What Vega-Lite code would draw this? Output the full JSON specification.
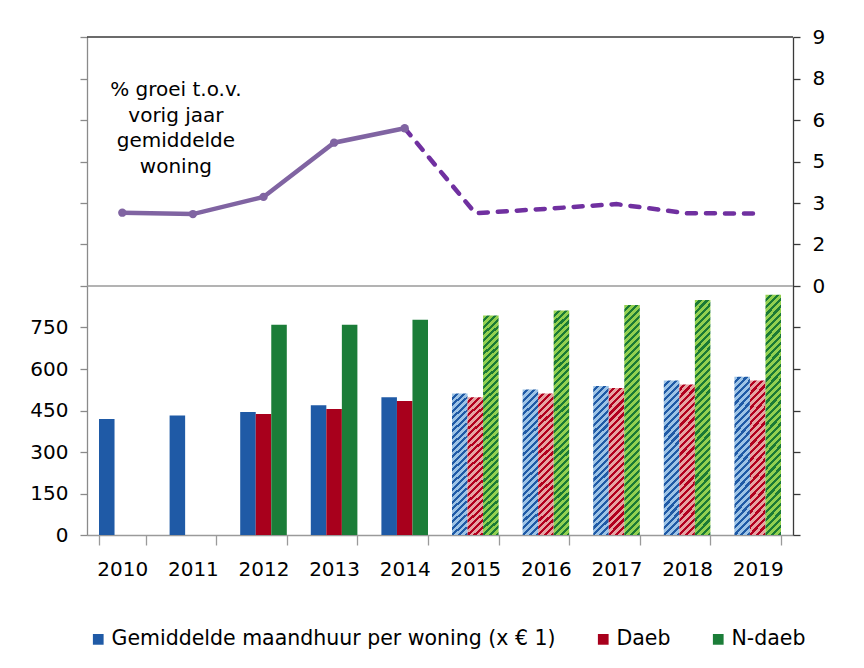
{
  "$schema": "https://vega.github.io/schema/vega-lite/v6.json",
  "width": 706,
  "height": 498,
  "autosize": "none",
  "padding": {"left": 87, "top": 37, "right": 71, "bottom": 133},
  "background": "white",
  "config": {
    "view": {"stroke": null},
    "font": "DejaVu Sans",
    "axis": {"labelFont": "DejaVu Sans", "labelFontSize": 20, "labelColor": "#000000", "grid": false, "title": null}
  },
  "datasets": {
    "huur": [
      {"jaar": 2010, "reeks": "Gemiddelde maandhuur per woning (x € 1)", "waarde": 419},
      {"jaar": 2011, "reeks": "Gemiddelde maandhuur per woning (x € 1)", "waarde": 432},
      {"jaar": 2012, "reeks": "Gemiddelde maandhuur per woning (x € 1)", "waarde": 445},
      {"jaar": 2012, "reeks": "Daeb", "waarde": 437},
      {"jaar": 2012, "reeks": "N-daeb", "waarde": 760},
      {"jaar": 2013, "reeks": "Gemiddelde maandhuur per woning (x € 1)", "waarde": 469},
      {"jaar": 2013, "reeks": "Daeb", "waarde": 455},
      {"jaar": 2013, "reeks": "N-daeb", "waarde": 760},
      {"jaar": 2014, "reeks": "Gemiddelde maandhuur per woning (x € 1)", "waarde": 498},
      {"jaar": 2014, "reeks": "Daeb", "waarde": 484},
      {"jaar": 2014, "reeks": "N-daeb", "waarde": 778},
      {"jaar": 2015, "reeks": "Gemiddelde maandhuur per woning (x € 1)", "waarde": 511},
      {"jaar": 2015, "reeks": "Daeb", "waarde": 498},
      {"jaar": 2015, "reeks": "N-daeb", "waarde": 793},
      {"jaar": 2016, "reeks": "Gemiddelde maandhuur per woning (x € 1)", "waarde": 526},
      {"jaar": 2016, "reeks": "Daeb", "waarde": 511},
      {"jaar": 2016, "reeks": "N-daeb", "waarde": 811},
      {"jaar": 2017, "reeks": "Gemiddelde maandhuur per woning (x € 1)", "waarde": 539},
      {"jaar": 2017, "reeks": "Daeb", "waarde": 531},
      {"jaar": 2017, "reeks": "N-daeb", "waarde": 831},
      {"jaar": 2018, "reeks": "Gemiddelde maandhuur per woning (x € 1)", "waarde": 558},
      {"jaar": 2018, "reeks": "Daeb", "waarde": 544},
      {"jaar": 2018, "reeks": "N-daeb", "waarde": 849},
      {"jaar": 2019, "reeks": "Gemiddelde maandhuur per woning (x € 1)", "waarde": 572},
      {"jaar": 2019, "reeks": "Daeb", "waarde": 558},
      {"jaar": 2019, "reeks": "N-daeb", "waarde": 868}
    ],
    "groei": [
      {"jaar": 2010, "groei": 2.65},
      {"jaar": 2011, "groei": 2.6},
      {"jaar": 2012, "groei": 3.22},
      {"jaar": 2013, "groei": 5.18},
      {"jaar": 2014, "groei": 5.7},
      {"jaar": 2015, "groei": 2.63},
      {"jaar": 2016, "groei": 2.79},
      {"jaar": 2017, "groei": 2.96},
      {"jaar": 2018, "groei": 2.63},
      {"jaar": 2019, "groei": 2.62}
    ]
  },
  "layer": [
    {
      "data": {"name": "huur"},
      "layer": [
        {
          "transform": [{"filter": "datum.jaar <= 2014"}],
          "mark": {"type": "bar", "stroke": null},
          "encoding": {
            "x": {
              "field": "jaar", "type": "ordinal",
              "scale": {"paddingInner": 0.34, "paddingOuter": 0.17},
              "axis": {"title": null, "labelAngle": 0, "domainColor": "#9a9a9a", "domainWidth": 1.3, "tickColor": "#9a9a9a", "tickWidth": 1.3, "tickSize": 10, "tickBand": "extent", "labelPadding": 14, "labelFontSize": 20, "labelFont": "DejaVu Sans"}
            },
            "xOffset": {
              "field": "reeks", "type": "nominal",
              "scale": {"domain": ["Gemiddelde maandhuur per woning (x € 1)", "Daeb", "N-daeb"], "paddingInner": 0, "paddingOuter": 0}
            },
            "y": {
              "field": "waarde", "type": "quantitative",
              "scale": {"domain": [0, 1800], "nice": false, "zero": true},
              "axis": {"title": null, "values": [0, 150, 300, 450, 600, 750, 900, 1050, 1200, 1350, 1500, 1650, 1800], "labelExpr": "datum.value <= 750 ? datum.label : ''", "domainColor": "#8a8a8a", "domainWidth": 1.3, "tickColor": "#8a8a8a", "tickWidth": 1.3, "tickSize": 7, "labelPadding": 12, "labelFontSize": 20}
            },
            "color": {
              "field": "reeks", "type": "nominal",
              "scale": {"domain": ["Gemiddelde maandhuur per woning (x € 1)", "Daeb", "N-daeb"], "range": ["#1F5AA6", "#A8001C", "#1B7D38"]},
              "legend": {"orient": "none", "legendX": 1, "legendY": 592, "direction": "horizontal", "columns": 3, "title": null, "symbolType": "square", "symbolSize": 115, "symbolStrokeWidth": 0, "labelFontSize": 20.5, "labelFont": "DejaVu Sans", "labelColor": "#000000", "labelOffset": 3, "columnPadding": 37, "labelLimit": 700}
            }
          }
        },
        {
          "transform": [{"filter": "datum.jaar >= 2015 && datum.reeks != 'Daeb' && datum.reeks != 'N-daeb'"}],
          "mark": {
            "type": "bar", "stroke": null,
            "fill": {"gradient": "linear", "x1": 0, "y1": 0, "x2": 0.1128, "y2": 1.0917, "stops": [
              {"offset": 0, "color": "#9DC3E6"}, {"offset": 0.0229, "color": "#9DC3E6"}, {"offset": 0.0229, "color": "#1F5AA6"}, {"offset": 0.0417, "color": "#1F5AA6"},
              {"offset": 0.0417, "color": "#9DC3E6"}, {"offset": 0.0646, "color": "#9DC3E6"}, {"offset": 0.0646, "color": "#1F5AA6"}, {"offset": 0.0833, "color": "#1F5AA6"},
              {"offset": 0.0833, "color": "#9DC3E6"}, {"offset": 0.1063, "color": "#9DC3E6"}, {"offset": 0.1063, "color": "#1F5AA6"}, {"offset": 0.125, "color": "#1F5AA6"},
              {"offset": 0.125, "color": "#9DC3E6"}, {"offset": 0.1479, "color": "#9DC3E6"}, {"offset": 0.1479, "color": "#1F5AA6"}, {"offset": 0.1667, "color": "#1F5AA6"},
              {"offset": 0.1667, "color": "#9DC3E6"}, {"offset": 0.1896, "color": "#9DC3E6"}, {"offset": 0.1896, "color": "#1F5AA6"}, {"offset": 0.2083, "color": "#1F5AA6"},
              {"offset": 0.2083, "color": "#9DC3E6"}, {"offset": 0.2313, "color": "#9DC3E6"}, {"offset": 0.2313, "color": "#1F5AA6"}, {"offset": 0.25, "color": "#1F5AA6"},
              {"offset": 0.25, "color": "#9DC3E6"}, {"offset": 0.2729, "color": "#9DC3E6"}, {"offset": 0.2729, "color": "#1F5AA6"}, {"offset": 0.2917, "color": "#1F5AA6"},
              {"offset": 0.2917, "color": "#9DC3E6"}, {"offset": 0.3146, "color": "#9DC3E6"}, {"offset": 0.3146, "color": "#1F5AA6"}, {"offset": 0.3333, "color": "#1F5AA6"},
              {"offset": 0.3333, "color": "#9DC3E6"}, {"offset": 0.3563, "color": "#9DC3E6"}, {"offset": 0.3563, "color": "#1F5AA6"}, {"offset": 0.375, "color": "#1F5AA6"},
              {"offset": 0.375, "color": "#9DC3E6"}, {"offset": 0.3979, "color": "#9DC3E6"}, {"offset": 0.3979, "color": "#1F5AA6"}, {"offset": 0.4167, "color": "#1F5AA6"},
              {"offset": 0.4167, "color": "#9DC3E6"}, {"offset": 0.4396, "color": "#9DC3E6"}, {"offset": 0.4396, "color": "#1F5AA6"}, {"offset": 0.4583, "color": "#1F5AA6"},
              {"offset": 0.4583, "color": "#9DC3E6"}, {"offset": 0.4813, "color": "#9DC3E6"}, {"offset": 0.4813, "color": "#1F5AA6"}, {"offset": 0.5, "color": "#1F5AA6"},
              {"offset": 0.5, "color": "#9DC3E6"}, {"offset": 0.5229, "color": "#9DC3E6"}, {"offset": 0.5229, "color": "#1F5AA6"}, {"offset": 0.5417, "color": "#1F5AA6"},
              {"offset": 0.5417, "color": "#9DC3E6"}, {"offset": 0.5646, "color": "#9DC3E6"}, {"offset": 0.5646, "color": "#1F5AA6"}, {"offset": 0.5833, "color": "#1F5AA6"},
              {"offset": 0.5833, "color": "#9DC3E6"}, {"offset": 0.6063, "color": "#9DC3E6"}, {"offset": 0.6063, "color": "#1F5AA6"}, {"offset": 0.625, "color": "#1F5AA6"},
              {"offset": 0.625, "color": "#9DC3E6"}, {"offset": 0.6479, "color": "#9DC3E6"}, {"offset": 0.6479, "color": "#1F5AA6"}, {"offset": 0.6667, "color": "#1F5AA6"},
              {"offset": 0.6667, "color": "#9DC3E6"}, {"offset": 0.6896, "color": "#9DC3E6"}, {"offset": 0.6896, "color": "#1F5AA6"}, {"offset": 0.7083, "color": "#1F5AA6"},
              {"offset": 0.7083, "color": "#9DC3E6"}, {"offset": 0.7313, "color": "#9DC3E6"}, {"offset": 0.7313, "color": "#1F5AA6"}, {"offset": 0.75, "color": "#1F5AA6"},
              {"offset": 0.75, "color": "#9DC3E6"}, {"offset": 0.7729, "color": "#9DC3E6"}, {"offset": 0.7729, "color": "#1F5AA6"}, {"offset": 0.7917, "color": "#1F5AA6"},
              {"offset": 0.7917, "color": "#9DC3E6"}, {"offset": 0.8146, "color": "#9DC3E6"}, {"offset": 0.8146, "color": "#1F5AA6"}, {"offset": 0.8333, "color": "#1F5AA6"},
              {"offset": 0.8333, "color": "#9DC3E6"}, {"offset": 0.8563, "color": "#9DC3E6"}, {"offset": 0.8563, "color": "#1F5AA6"}, {"offset": 0.875, "color": "#1F5AA6"},
              {"offset": 0.875, "color": "#9DC3E6"}, {"offset": 0.8979, "color": "#9DC3E6"}, {"offset": 0.8979, "color": "#1F5AA6"}, {"offset": 0.9167, "color": "#1F5AA6"},
              {"offset": 0.9167, "color": "#9DC3E6"}, {"offset": 0.9396, "color": "#9DC3E6"}, {"offset": 0.9396, "color": "#1F5AA6"}, {"offset": 0.9583, "color": "#1F5AA6"},
              {"offset": 0.9583, "color": "#9DC3E6"}, {"offset": 0.9813, "color": "#9DC3E6"}, {"offset": 0.9813, "color": "#1F5AA6"}, {"offset": 1, "color": "#1F5AA6"}
            ]}
          },
          "encoding": {
            "x": {"field": "jaar", "type": "ordinal"},
            "xOffset": {"field": "reeks", "type": "nominal"},
            "y": {"field": "waarde", "type": "quantitative"}
          }
        },
        {
          "transform": [{"filter": "datum.jaar >= 2015 && datum.reeks == 'Daeb'"}],
          "mark": {
            "type": "bar", "stroke": null,
            "fill": {"gradient": "linear", "x1": 0, "y1": 0, "x2": 0.1161, "y2": 1.0938, "stops": [
              {"offset": 0, "color": "#E6A3A3"}, {"offset": 0.0239, "color": "#E6A3A3"}, {"offset": 0.0239, "color": "#B2001E"}, {"offset": 0.0435, "color": "#B2001E"},
              {"offset": 0.0435, "color": "#E6A3A3"}, {"offset": 0.0674, "color": "#E6A3A3"}, {"offset": 0.0674, "color": "#B2001E"}, {"offset": 0.087, "color": "#B2001E"},
              {"offset": 0.087, "color": "#E6A3A3"}, {"offset": 0.1109, "color": "#E6A3A3"}, {"offset": 0.1109, "color": "#B2001E"}, {"offset": 0.1304, "color": "#B2001E"},
              {"offset": 0.1304, "color": "#E6A3A3"}, {"offset": 0.1543, "color": "#E6A3A3"}, {"offset": 0.1543, "color": "#B2001E"}, {"offset": 0.1739, "color": "#B2001E"},
              {"offset": 0.1739, "color": "#E6A3A3"}, {"offset": 0.1978, "color": "#E6A3A3"}, {"offset": 0.1978, "color": "#B2001E"}, {"offset": 0.2174, "color": "#B2001E"},
              {"offset": 0.2174, "color": "#E6A3A3"}, {"offset": 0.2413, "color": "#E6A3A3"}, {"offset": 0.2413, "color": "#B2001E"}, {"offset": 0.2609, "color": "#B2001E"},
              {"offset": 0.2609, "color": "#E6A3A3"}, {"offset": 0.2848, "color": "#E6A3A3"}, {"offset": 0.2848, "color": "#B2001E"}, {"offset": 0.3043, "color": "#B2001E"},
              {"offset": 0.3043, "color": "#E6A3A3"}, {"offset": 0.3282, "color": "#E6A3A3"}, {"offset": 0.3282, "color": "#B2001E"}, {"offset": 0.3478, "color": "#B2001E"},
              {"offset": 0.3478, "color": "#E6A3A3"}, {"offset": 0.3717, "color": "#E6A3A3"}, {"offset": 0.3717, "color": "#B2001E"}, {"offset": 0.3913, "color": "#B2001E"},
              {"offset": 0.3913, "color": "#E6A3A3"}, {"offset": 0.4152, "color": "#E6A3A3"}, {"offset": 0.4152, "color": "#B2001E"}, {"offset": 0.4348, "color": "#B2001E"},
              {"offset": 0.4348, "color": "#E6A3A3"}, {"offset": 0.4587, "color": "#E6A3A3"}, {"offset": 0.4587, "color": "#B2001E"}, {"offset": 0.4783, "color": "#B2001E"},
              {"offset": 0.4783, "color": "#E6A3A3"}, {"offset": 0.5022, "color": "#E6A3A3"}, {"offset": 0.5022, "color": "#B2001E"}, {"offset": 0.5217, "color": "#B2001E"},
              {"offset": 0.5217, "color": "#E6A3A3"}, {"offset": 0.5456, "color": "#E6A3A3"}, {"offset": 0.5456, "color": "#B2001E"}, {"offset": 0.5652, "color": "#B2001E"},
              {"offset": 0.5652, "color": "#E6A3A3"}, {"offset": 0.5891, "color": "#E6A3A3"}, {"offset": 0.5891, "color": "#B2001E"}, {"offset": 0.6087, "color": "#B2001E"},
              {"offset": 0.6087, "color": "#E6A3A3"}, {"offset": 0.6326, "color": "#E6A3A3"}, {"offset": 0.6326, "color": "#B2001E"}, {"offset": 0.6522, "color": "#B2001E"},
              {"offset": 0.6522, "color": "#E6A3A3"}, {"offset": 0.6761, "color": "#E6A3A3"}, {"offset": 0.6761, "color": "#B2001E"}, {"offset": 0.6957, "color": "#B2001E"},
              {"offset": 0.6957, "color": "#E6A3A3"}, {"offset": 0.7196, "color": "#E6A3A3"}, {"offset": 0.7196, "color": "#B2001E"}, {"offset": 0.7391, "color": "#B2001E"},
              {"offset": 0.7391, "color": "#E6A3A3"}, {"offset": 0.763, "color": "#E6A3A3"}, {"offset": 0.763, "color": "#B2001E"}, {"offset": 0.7826, "color": "#B2001E"},
              {"offset": 0.7826, "color": "#E6A3A3"}, {"offset": 0.8065, "color": "#E6A3A3"}, {"offset": 0.8065, "color": "#B2001E"}, {"offset": 0.8261, "color": "#B2001E"},
              {"offset": 0.8261, "color": "#E6A3A3"}, {"offset": 0.85, "color": "#E6A3A3"}, {"offset": 0.85, "color": "#B2001E"}, {"offset": 0.8696, "color": "#B2001E"},
              {"offset": 0.8696, "color": "#E6A3A3"}, {"offset": 0.8935, "color": "#E6A3A3"}, {"offset": 0.8935, "color": "#B2001E"}, {"offset": 0.913, "color": "#B2001E"},
              {"offset": 0.913, "color": "#E6A3A3"}, {"offset": 0.9369, "color": "#E6A3A3"}, {"offset": 0.9369, "color": "#B2001E"}, {"offset": 0.9565, "color": "#B2001E"},
              {"offset": 0.9565, "color": "#E6A3A3"}, {"offset": 0.9804, "color": "#E6A3A3"}, {"offset": 0.9804, "color": "#B2001E"}, {"offset": 1, "color": "#B2001E"}
            ]}
          },
          "encoding": {
            "x": {"field": "jaar", "type": "ordinal"},
            "xOffset": {"field": "reeks", "type": "nominal"},
            "y": {"field": "waarde", "type": "quantitative"}
          }
        },
        {
          "transform": [{"filter": "datum.jaar >= 2015 && datum.reeks == 'N-daeb'"}],
          "mark": {
            "type": "bar", "stroke": null,
            "fill": {"gradient": "linear", "x1": 0, "y1": 0, "x2": 0.0716, "y2": 1.0626, "stops": [
              {"offset": 0, "color": "#92D050"}, {"offset": 0.0157, "color": "#92D050"}, {"offset": 0.0157, "color": "#1B7A35"}, {"offset": 0.0286, "color": "#1B7A35"},
              {"offset": 0.0286, "color": "#92D050"}, {"offset": 0.0443, "color": "#92D050"}, {"offset": 0.0443, "color": "#1B7A35"}, {"offset": 0.0571, "color": "#1B7A35"},
              {"offset": 0.0571, "color": "#92D050"}, {"offset": 0.0729, "color": "#92D050"}, {"offset": 0.0729, "color": "#1B7A35"}, {"offset": 0.0857, "color": "#1B7A35"},
              {"offset": 0.0857, "color": "#92D050"}, {"offset": 0.1014, "color": "#92D050"}, {"offset": 0.1014, "color": "#1B7A35"}, {"offset": 0.1143, "color": "#1B7A35"},
              {"offset": 0.1143, "color": "#92D050"}, {"offset": 0.13, "color": "#92D050"}, {"offset": 0.13, "color": "#1B7A35"}, {"offset": 0.1429, "color": "#1B7A35"},
              {"offset": 0.1429, "color": "#92D050"}, {"offset": 0.1586, "color": "#92D050"}, {"offset": 0.1586, "color": "#1B7A35"}, {"offset": 0.1714, "color": "#1B7A35"},
              {"offset": 0.1714, "color": "#92D050"}, {"offset": 0.1871, "color": "#92D050"}, {"offset": 0.1871, "color": "#1B7A35"}, {"offset": 0.2, "color": "#1B7A35"},
              {"offset": 0.2, "color": "#92D050"}, {"offset": 0.2157, "color": "#92D050"}, {"offset": 0.2157, "color": "#1B7A35"}, {"offset": 0.2286, "color": "#1B7A35"},
              {"offset": 0.2286, "color": "#92D050"}, {"offset": 0.2443, "color": "#92D050"}, {"offset": 0.2443, "color": "#1B7A35"}, {"offset": 0.2571, "color": "#1B7A35"},
              {"offset": 0.2571, "color": "#92D050"}, {"offset": 0.2729, "color": "#92D050"}, {"offset": 0.2729, "color": "#1B7A35"}, {"offset": 0.2857, "color": "#1B7A35"},
              {"offset": 0.2857, "color": "#92D050"}, {"offset": 0.3014, "color": "#92D050"}, {"offset": 0.3014, "color": "#1B7A35"}, {"offset": 0.3143, "color": "#1B7A35"},
              {"offset": 0.3143, "color": "#92D050"}, {"offset": 0.33, "color": "#92D050"}, {"offset": 0.33, "color": "#1B7A35"}, {"offset": 0.3429, "color": "#1B7A35"},
              {"offset": 0.3429, "color": "#92D050"}, {"offset": 0.3586, "color": "#92D050"}, {"offset": 0.3586, "color": "#1B7A35"}, {"offset": 0.3714, "color": "#1B7A35"},
              {"offset": 0.3714, "color": "#92D050"}, {"offset": 0.3871, "color": "#92D050"}, {"offset": 0.3871, "color": "#1B7A35"}, {"offset": 0.4, "color": "#1B7A35"},
              {"offset": 0.4, "color": "#92D050"}, {"offset": 0.4157, "color": "#92D050"}, {"offset": 0.4157, "color": "#1B7A35"}, {"offset": 0.4286, "color": "#1B7A35"},
              {"offset": 0.4286, "color": "#92D050"}, {"offset": 0.4443, "color": "#92D050"}, {"offset": 0.4443, "color": "#1B7A35"}, {"offset": 0.4571, "color": "#1B7A35"},
              {"offset": 0.4571, "color": "#92D050"}, {"offset": 0.4729, "color": "#92D050"}, {"offset": 0.4729, "color": "#1B7A35"}, {"offset": 0.4857, "color": "#1B7A35"},
              {"offset": 0.4857, "color": "#92D050"}, {"offset": 0.5014, "color": "#92D050"}, {"offset": 0.5014, "color": "#1B7A35"}, {"offset": 0.5143, "color": "#1B7A35"},
              {"offset": 0.5143, "color": "#92D050"}, {"offset": 0.53, "color": "#92D050"}, {"offset": 0.53, "color": "#1B7A35"}, {"offset": 0.5429, "color": "#1B7A35"},
              {"offset": 0.5429, "color": "#92D050"}, {"offset": 0.5586, "color": "#92D050"}, {"offset": 0.5586, "color": "#1B7A35"}, {"offset": 0.5714, "color": "#1B7A35"},
              {"offset": 0.5714, "color": "#92D050"}, {"offset": 0.5871, "color": "#92D050"}, {"offset": 0.5871, "color": "#1B7A35"}, {"offset": 0.6, "color": "#1B7A35"},
              {"offset": 0.6, "color": "#92D050"}, {"offset": 0.6157, "color": "#92D050"}, {"offset": 0.6157, "color": "#1B7A35"}, {"offset": 0.6286, "color": "#1B7A35"},
              {"offset": 0.6286, "color": "#92D050"}, {"offset": 0.6443, "color": "#92D050"}, {"offset": 0.6443, "color": "#1B7A35"}, {"offset": 0.6571, "color": "#1B7A35"},
              {"offset": 0.6571, "color": "#92D050"}, {"offset": 0.6729, "color": "#92D050"}, {"offset": 0.6729, "color": "#1B7A35"}, {"offset": 0.6857, "color": "#1B7A35"},
              {"offset": 0.6857, "color": "#92D050"}, {"offset": 0.7014, "color": "#92D050"}, {"offset": 0.7014, "color": "#1B7A35"}, {"offset": 0.7143, "color": "#1B7A35"},
              {"offset": 0.7143, "color": "#92D050"}, {"offset": 0.73, "color": "#92D050"}, {"offset": 0.73, "color": "#1B7A35"}, {"offset": 0.7429, "color": "#1B7A35"},
              {"offset": 0.7429, "color": "#92D050"}, {"offset": 0.7586, "color": "#92D050"}, {"offset": 0.7586, "color": "#1B7A35"}, {"offset": 0.7714, "color": "#1B7A35"},
              {"offset": 0.7714, "color": "#92D050"}, {"offset": 0.7871, "color": "#92D050"}, {"offset": 0.7871, "color": "#1B7A35"}, {"offset": 0.8, "color": "#1B7A35"},
              {"offset": 0.8, "color": "#92D050"}, {"offset": 0.8157, "color": "#92D050"}, {"offset": 0.8157, "color": "#1B7A35"}, {"offset": 0.8286, "color": "#1B7A35"},
              {"offset": 0.8286, "color": "#92D050"}, {"offset": 0.8443, "color": "#92D050"}, {"offset": 0.8443, "color": "#1B7A35"}, {"offset": 0.8571, "color": "#1B7A35"},
              {"offset": 0.8571, "color": "#92D050"}, {"offset": 0.8729, "color": "#92D050"}, {"offset": 0.8729, "color": "#1B7A35"}, {"offset": 0.8857, "color": "#1B7A35"},
              {"offset": 0.8857, "color": "#92D050"}, {"offset": 0.9014, "color": "#92D050"}, {"offset": 0.9014, "color": "#1B7A35"}, {"offset": 0.9143, "color": "#1B7A35"},
              {"offset": 0.9143, "color": "#92D050"}, {"offset": 0.93, "color": "#92D050"}, {"offset": 0.93, "color": "#1B7A35"}, {"offset": 0.9429, "color": "#1B7A35"},
              {"offset": 0.9429, "color": "#92D050"}, {"offset": 0.9586, "color": "#92D050"}, {"offset": 0.9586, "color": "#1B7A35"}, {"offset": 0.9714, "color": "#1B7A35"},
              {"offset": 0.9714, "color": "#92D050"}, {"offset": 0.9871, "color": "#92D050"}, {"offset": 0.9871, "color": "#1B7A35"}, {"offset": 1, "color": "#1B7A35"}
            ]}
          },
          "encoding": {
            "x": {"field": "jaar", "type": "ordinal"},
            "xOffset": {"field": "reeks", "type": "nominal"},
            "y": {"field": "waarde", "type": "quantitative"}
          }
        }
      ]
    },
    {
      "data": {"name": "groei"},
      "layer": [
        {
          "data": {"values": [{}]},
          "mark": {"type": "rule", "color": "#9a9a9a", "strokeWidth": 1.3},
          "encoding": {"y": {"datum": 0, "type": "quantitative"}}
        },
        {
          "data": {"values": [{}]},
          "mark": {"type": "rule", "color": "#3a3a3a", "strokeWidth": 1.3},
          "encoding": {"y": {"datum": 9, "type": "quantitative"}}
        },
        {
          "transform": [{"filter": "datum.jaar >= 2014"}],
          "mark": {"type": "line", "color": "#7030A0", "strokeWidth": 4.5, "strokeDash": [9, 10], "strokeCap": "round"},
          "encoding": {
            "x": {"field": "jaar", "type": "ordinal"},
            "y": {"field": "groei", "type": "quantitative"}
          }
        },
        {
          "transform": [{"filter": "datum.jaar <= 2014"}],
          "mark": {"type": "line", "color": "#8064A2", "strokeWidth": 4.5, "point": {"filled": true, "size": 70, "color": "#8064A2"}},
          "encoding": {
            "x": {"field": "jaar", "type": "ordinal"},
            "y": {
              "field": "groei", "type": "quantitative",
              "scale": {"domain": [-9, 9], "nice": false, "zero": false},
              "axis": {"orient": "right", "title": null, "values": [-9, -7.5, -6, -4.5, -3, -1.5, 0, 1.5, 3, 4.5, 6, 7.5, 9], "labelExpr": "datum.value >= 0 ? format(datum.value, '.0f') : ''", "domainColor": "#3a3a3a", "domainWidth": 1.3, "tickColor": "#3a3a3a", "tickWidth": 1.3, "tickSize": 7, "labelPadding": 12, "labelFontSize": 20}
            }
          }
        },
        {
          "data": {"values": [{}]},
          "mark": {"type": "text", "text": ["% groei t.o.v.", "vorig jaar", "gemiddelde", "woning"], "font": "DejaVu Sans", "fontSize": 20, "lineHeight": 25.5, "align": "center", "baseline": "top", "dx": -17, "color": "#000000"},
          "encoding": {
            "x": {"datum": 2011, "type": "ordinal"},
            "y": {"datum": 7.44, "type": "quantitative"}
          }
        }
      ]
    }
  ],
  "resolve": {"scale": {"y": "independent"}}
}
